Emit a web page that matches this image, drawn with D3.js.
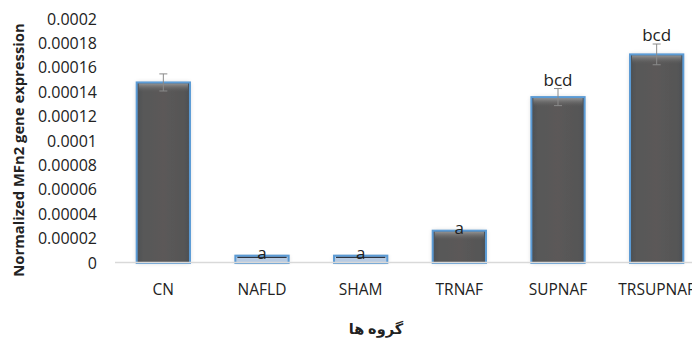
<!DOCTYPE html>
<html>
<head>
<meta charset="utf-8">
<script src="https://cdn.jsdelivr.net/npm/d3@7"></script>
<style>
  body { margin: 0; background: #fff; }
  text { font-family: "Open Sans", "Noto Sans", sans-serif; fill: #222; }
</style>
</head>
<body>
<div id="chart"></div>
<script>
var groups = ['CN', 'NAFLD', 'SHAM', 'TRNAF', 'SUPNAF', 'TRSUPNAF'];
var values = [0.000148, 0.000006, 0.000006, 0.0000265, 0.000136, 0.000171];
var errors = [0.000007, 0, 0, 0, 0.000007, 0.0000085];
var letters = ['', 'a', 'a', 'a', 'bcd', 'bcd'];
var yTicks = [0, 0.00002, 0.00004, 0.00006, 0.00008, 0.0001, 0.00012, 0.00014, 0.00016, 0.00018, 0.0002];

var width = 692, height = 338;

var svg = d3.select('#chart').append('svg')
  .attr('width', width)
  .attr('height', height);

var defs = svg.append('defs');
var grad = defs.append('linearGradient').attr('id', 'barFill')
  .attr('x1', 0).attr('x2', 1).attr('y1', 0).attr('y2', 0);
grad.append('stop').attr('offset', '0%').attr('stop-color', '#4b4f55');
grad.append('stop').attr('offset', '12%').attr('stop-color', '#585858');
grad.append('stop').attr('offset', '50%').attr('stop-color', '#5b5959');
grad.append('stop').attr('offset', '88%').attr('stop-color', '#565656');
grad.append('stop').attr('offset', '100%').attr('stop-color', '#4b4f55');

var topGrad = defs.append('linearGradient').attr('id', 'topFill')
  .attr('x1', 0).attr('x2', 0).attr('y1', 0).attr('y2', 1);
topGrad.append('stop').attr('offset', '0%').attr('stop-color', '#9a9a9a').attr('stop-opacity', 0.9);
topGrad.append('stop').attr('offset', '100%').attr('stop-color', '#5a5a5a').attr('stop-opacity', 0);

var shadow = defs.append('filter').attr('id', 'shadow')
  .attr('x', '-20%').attr('y', '-20%').attr('width', '140%').attr('height', '140%');
shadow.append('feGaussianBlur').attr('in', 'SourceAlpha').attr('stdDeviation', 2.5);
shadow.append('feComponentTransfer').append('feFuncA').attr('type', 'linear').attr('slope', 0.18);
var merge = shadow.append('feMerge');
merge.append('feMergeNode');
merge.append('feMergeNode').attr('in', 'SourceGraphic');

var x = d3.scaleBand()
  .domain(groups)
  .range([114, 706])
  .paddingInner(0.46)
  .paddingOuter(0.23);

var y = d3.scaleLinear()
  .domain([0, 0.0002])
  .range([263, 19]);

// y axis labels (no line)
var yAxis = svg.append('g')
  .attr('transform', 'translate(99,0)')
  .call(d3.axisLeft(y).tickValues(yTicks).tickSize(0).tickPadding(2)
    .tickFormat(function(d) { return d === 0 ? '0' : String(+d.toPrecision(2)); }));
yAxis.select('.domain').remove();
yAxis.selectAll('text')
  .style('font-size', '16px')
  .style('font-family', '"Open Sans", "Noto Sans", sans-serif')
  .attr('fill', '#222');

// bars
var bar = svg.selectAll('.bar').data(groups).enter().append('g').attr('class', 'bar');

function isShort(i) { return y(0) - y(values[i]) < 12; }

bar.append('rect')
  .attr('x', function(d) { return x(d); })
  .attr('y', function(d, i) { return y(values[i]); })
  .attr('width', x.bandwidth())
  .attr('height', function(d, i) { return y(0) - y(values[i]); })
  .attr('fill', function(d, i) { return isShort(i) ? '#b7cbe3' : 'url(#barFill)'; })
  .attr('filter', 'url(#shadow)');

// light top highlight
bar.filter(function(d, i) { return !isShort(i); }).append('rect')
  .attr('x', function(d) { return x(d) + 2; })
  .attr('y', function(d) { return y(values[groups.indexOf(d)]) + 1; })
  .attr('width', x.bandwidth() - 4)
  .attr('height', 9)
  .attr('fill', 'url(#topFill)');

// dark top line on short bars
bar.filter(function(d, i) { return isShort(i); }).append('line')
  .attr('x1', function(d) { return x(d) + 2; })
  .attr('x2', function(d) { return x(d) + x.bandwidth() - 2; })
  .attr('y1', function(d) { return y(values[groups.indexOf(d)]) + 1.5; })
  .attr('y2', function(d) { return y(values[groups.indexOf(d)]) + 1.5; })
  .attr('stroke', '#2e3440')
  .attr('stroke-width', 1.5);

// blue outline
bar.append('rect')
  .attr('x', function(d) { return x(d); })
  .attr('y', function(d, i) { return y(values[i]); })
  .attr('width', x.bandwidth())
  .attr('height', function(d, i) { return y(0) - y(values[i]); })
  .attr('fill', 'none')
  .attr('stroke', '#5b9bd5')
  .attr('stroke-width', 2);

// x axis line
svg.append('line')
  .attr('x1', 115).attr('x2', width)
  .attr('y1', y(0) - 0.5).attr('y2', y(0) - 0.5)
  .attr('stroke', '#d9d9d9')
  .attr('stroke-width', 1.5);

// error bars
bar.filter(function(d, i) { return errors[i] > 0; }).each(function(d) {
  var i = groups.indexOf(d);
  var cx = x(d) + x.bandwidth() / 2;
  var g = d3.select(this);
  g.append('line')
    .attr('x1', cx).attr('x2', cx)
    .attr('y1', y(values[i] + errors[i])).attr('y2', y(values[i] - errors[i]))
    .attr('stroke', '#8a8a8a').attr('stroke-width', 1);
  g.append('line')
    .attr('x1', cx - 4).attr('x2', cx + 4)
    .attr('y1', y(values[i] + errors[i])).attr('y2', y(values[i] + errors[i]))
    .attr('stroke', '#8a8a8a').attr('stroke-width', 1);
  g.append('line')
    .attr('x1', cx - 4).attr('x2', cx + 4)
    .attr('y1', y(values[i] - errors[i])).attr('y2', y(values[i] - errors[i]))
    .attr('stroke', '#8a8a8a').attr('stroke-width', 1);
});

// significance letters
bar.append('text')
  .attr('x', function(d) { return x(d) + x.bandwidth() / 2; })
  .attr('y', function(d, i) {
    return errors[i] > 0 ? y(values[i] + errors[i]) - 3 : y(values[i]) + 3;
  })
  .attr('text-anchor', 'middle')
  .style('font-size', '17px')
  .attr('fill', '#111')
  .text(function(d, i) { return letters[i]; });

// category labels
svg.selectAll('.cat').data(groups).enter().append('text')
  .attr('class', 'cat')
  .attr('x', function(d) { return x(d) + x.bandwidth() / 2; })
  .attr('y', 295)
  .attr('text-anchor', 'middle')
  .style('font-size', '15.5px')
  .text(function(d) { return d; });

// axis titles
svg.append('text')
  .attr('transform', 'translate(24,150) rotate(-90)')
  .attr('text-anchor', 'middle')
  .style('font-size', '14.8px')
  .style('font-weight', 'bold')
  .text('Normalized MFn2 gene expression');

svg.append('text')
  .attr('x', 376)
  .attr('y', 334)
  .attr('text-anchor', 'middle')
  .style('font-size', '14.5px')
  .style('font-weight', 'bold')
  .style('font-family', '"Noto Sans", "DejaVu Sans", sans-serif')
  .text('گروه ها');
</script>
</body>
</html>
